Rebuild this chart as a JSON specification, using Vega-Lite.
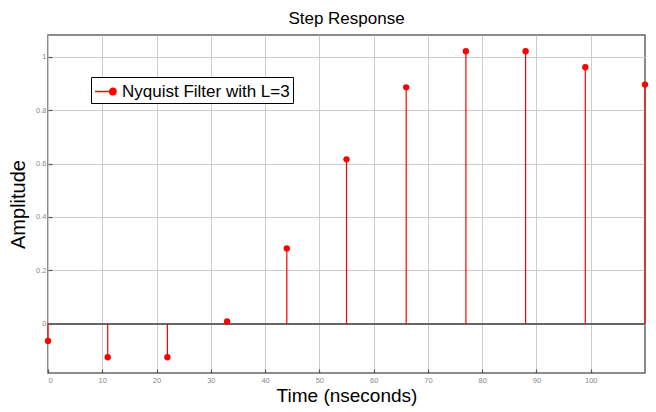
{
  "$schema": "https://vega.github.io/schema/vega-lite/v6.json",
  "width": 597,
  "height": 338,
  "autosize": "none",
  "padding": {"left": 48, "top": 35, "right": 11, "bottom": 39},
  "background": "white",
  "title": {"text": "Step Response", "font": "Liberation Sans", "fontSize": 17, "fontWeight": "normal", "color": "#000000", "offset": 7},
  "config": {
    "view": {"stroke": "#666666", "strokeWidth": 1.5},
    "axis": {
      "gridColor": "#cccccc", "gridWidth": 1, "domain": false,
      "tickColor": "#555555", "tickWidth": 1.2, "labelColor": "#888888", "labelFont": "Liberation Sans",
      "labelFontSize": 7.5, "titleFont": "Liberation Sans", "titleFontWeight": "normal", "titleColor": "#000000"
    }
  },
  "data": {"values": [
    {"t": 0, "amp": -0.065},
    {"t": 11, "amp": -0.126},
    {"t": 22, "amp": -0.126},
    {"t": 33, "amp": 0.008},
    {"t": 44, "amp": 0.282},
    {"t": 55, "amp": 0.616},
    {"t": 66, "amp": 0.886},
    {"t": 77, "amp": 1.021},
    {"t": 88, "amp": 1.021},
    {"t": 99, "amp": 0.961},
    {"t": 110, "amp": 0.896}
  ]},
  "encoding": {
    "x": {"field": "t", "type": "quantitative",
      "scale": {"domain": [0, 110], "nice": false, "zero": false},
      "axis": {"title": "Time (nseconds)", "titleFontSize": 19, "values": [0,10,20,30,40,50,60,70,80,90,100], "tickSize": -4, "labelPadding": 7, "titlePadding": 3}},
    "y": {"field": "amp", "type": "quantitative",
      "scale": {"domain": [-0.185, 1.082], "nice": false, "zero": false},
      "axis": {"title": "Amplitude", "titleFontSize": 20, "format": "~g", "values": [0, 0.2, 0.4, 0.6, 0.8, 1], "tickSize": -4, "labelPadding": 6, "labelOverlap": false, "titlePadding": 7}}
  },
  "layer": [
    {"mark": {"type": "rule", "color": "#666666", "strokeWidth": 1.5}, "encoding": {"y": {"datum": 0}, "x": null}},
    {"mark": {"type": "rule", "color": "#ff0000", "strokeWidth": 1.2}, "encoding": {"y2": {"datum": 0}}},
    {"mark": {"type": "point", "filled": true, "shape": "circle", "size": 40, "opacity": 1},
      "encoding": {
        "color": {"datum": "Nyquist Filter with L=3", "type": "nominal",
          "scale": {"range": ["#ff0000"]},
          "legend": {"title": null, "orient": "none", "legendX": 43, "legendY": 42,
            "symbolType": "M-1,0L0.7,0M0.7,0m-0.3,0a0.3,0.3 0 1,0 0.6,0a0.3,0.3 0 1,0 -0.6,0",
            "symbolSize": 440, "symbolStrokeWidth": 1.5, "symbolFillColor": "#ff0000", "symbolStrokeColor": "#ff0000",
            "labelFont": "Liberation Sans", "labelFontSize": 17, "labelColor": "#000000", "labelLimit": 0,
            "fillColor": "white", "strokeColor": "#000000", "padding": 3, "labelOffset": 5}}
      }}
  ]
}
